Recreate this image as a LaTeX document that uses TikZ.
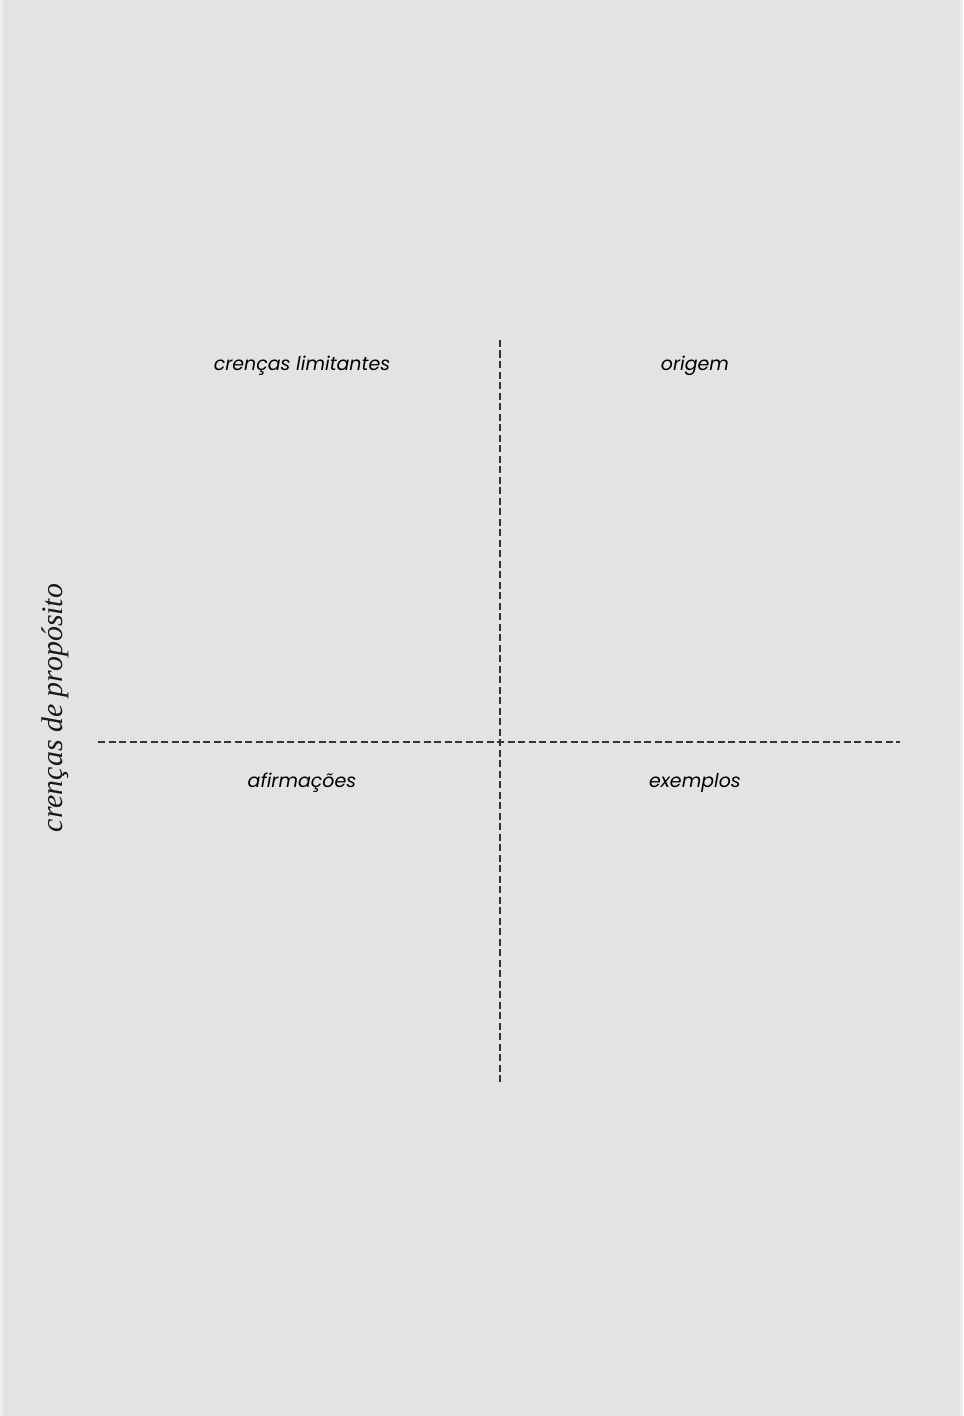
\documentclass[tikz,border=0pt]{standalone}
\usepackage{fontspec}
\usepackage{xcolor}
\usepackage{tikz}
\newfontfamily\quadfont{Poppins}
\newfontfamily\sidefont{Liberation Serif}
\definecolor{paper}{HTML}{E3E3E3}
\definecolor{paperedge}{HTML}{EEEEEE}

\begin{document}
\begin{tikzpicture}[quadrant/.style={font=\quadfont\itshape\fontsize{5.4}{7}\selectfont, text=black, inner sep=0pt}, axis/.style={line width=0.4pt, black!80, dash pattern=on 0.07cm off 0.035cm}, sidelabel/.style={font=\sidefont\itshape\fontsize{8.5}{10}\selectfont, text=black!90, rotate=90, inner sep=0pt}]
		\fill[paperedge] (0,0) rectangle (9.63,14.16);
		\fill[paper] (0.03,0) rectangle (9.60,14.16);
		\useasboundingbox (0,0) rectangle (9.63,14.16);
		
		\coordinate (top) at (5.00,10.76);
		\coordinate (bottom) at (5.00,3.33);
		\coordinate (left) at (0.98,6.74);
		\coordinate (right) at (9.00,6.74);
		\draw[axis] (top) -- (bottom);
		\draw[axis] (left) -- (right);
		
		\node[quadrant] (limitantes) at (3.02,10.50) {crenças limitantes};
		\node[quadrant] (origem) at (6.95,10.50) {origem};
		\node[quadrant] (afirmacoes) at (3.02,6.33) {afirmações};
		\node[quadrant] (exemplos) at (6.95,6.33) {exemplos};
		
		\node[sidelabel] (proposito) at (0.55,7.08) {crenças de propósito};
\end{tikzpicture}
\end{document}
